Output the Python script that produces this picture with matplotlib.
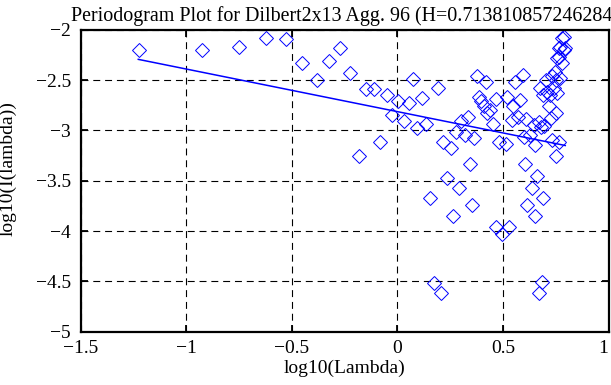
import matplotlib
matplotlib.use("Agg")
import matplotlib.pyplot as plt

# log10(Lambda) values of the periodogram points
log_lambda = [
    -1.223, -0.924, -0.748, -0.622, -0.527, -0.450, -0.380, -0.322, -0.271, -0.226,
    -0.184, -0.148, -0.113, -0.081, -0.048, -0.026, 0.005, 0.032, 0.054, 0.073,
    0.091, 0.117, 0.134, 0.155, 0.171, 0.190, 0.207, 0.218, 0.235, 0.254,
    0.263, 0.276, 0.291, 0.303, 0.321, 0.332, 0.342, 0.354, 0.365, 0.377,
    0.385, 0.396, 0.411, 0.421, 0.426, 0.439, 0.455, 0.468, 0.466, 0.480,
    0.497, 0.513, 0.519, 0.527, 0.542, 0.547, 0.558, 0.570, 0.582, 0.594,
    0.598, 0.606, 0.610, 0.614, 0.629, 0.636, 0.645, 0.650, 0.652, 0.661,
    0.669, 0.670, 0.677, 0.680, 0.684, 0.689, 0.690, 0.694, 0.703, 0.709,
    0.717, 0.724, 0.727, 0.732, 0.734, 0.743, 0.748, 0.750, 0.753, 0.753,
    0.756, 0.756, 0.764, 0.764, 0.767, 0.772, 0.772, 0.780, 0.780, 0.787,
    0.795, 0.790,
]
# log10(I(lambda)) values
log_I = [
    -2.203, -2.203, -2.170, -2.081, -2.094, -2.329, -2.500, -2.312, -2.183, -2.426,
    -3.259, -2.592, -2.589, -3.111, -2.653, -2.847, -2.708, -2.906, -2.728, -2.492,
    -2.972, -2.678, -2.933, -3.668, -4.513, -2.581, -4.616, -3.114, -3.468, -3.171,
    -3.851, -3.013, -3.576, -2.906, -3.045, -2.866, -3.337, -3.738, -3.071, -2.457,
    -2.665, -2.713, -2.757, -2.515, -2.830, -2.797, -2.936, -2.691, -3.962, -3.114,
    -4.025, -3.131, -2.671, -3.955, -2.901, -2.757, -2.515, -2.871, -2.698, -2.455,
    -3.064, -3.335, -2.891, -3.738, -3.045, -3.572, -2.946, -3.853, -3.149, -3.457,
    -2.913, -4.614, -2.582, -2.962, -4.505, -3.668, -2.649, -2.960, -2.500, -2.616,
    -2.762, -2.649, -2.876, -2.460, -3.099, -2.582, -2.418, -2.832, -2.500, -3.259,
    -2.285, -2.632, -2.186, -3.111, -2.269, -2.483, -2.170, -2.087, -2.335, -2.071,
    -2.186, -2.203,
]
# least-squares fit line endpoints
fit_x = [-1.227, 0.795]
fit_y = [-2.295, -3.150]

title_text = "Periodogram Plot for Dilbert2x13 Agg. 96 (H=0.713810857246284)"
x_ticks = [-1.5, -1, -0.5, 0, 0.5, 1]
x_tick_labels = ["\u22121.5", "\u22121", "\u22120.5", "0", "0.5", "1"]
y_ticks = [-5, -4.5, -4, -3.5, -3, -2.5, -2]
y_tick_labels = ["\u22125", "\u22124.5", "\u22124", "\u22123.5", "\u22123", "\u22122.5", "\u22122"]

plt.rcParams['font.family'] = ['Liberation Serif', 'DejaVu Serif']
plt.rcParams['lines.scale_dashes'] = False

FS = 14

fig = plt.figure(figsize=(6.11, 3.85), dpi=100)
ax = fig.add_axes([0.132, 0.138, 0.864, 0.785])

ax.plot(log_lambda, log_I, linestyle='none', marker='D', markersize=6.8,
        markerfacecolor='none', markeredgecolor='#0000ff', markeredgewidth=0.7)
ax.plot(fit_x, fit_y, color='#0000ff', linewidth=1.1)

ax.set_xlim(-1.5, 1)
ax.set_ylim(-5, -2)
ax.set_xticks(x_ticks)
ax.set_xticklabels(x_tick_labels)
ax.set_yticks(y_ticks)
ax.set_yticklabels(y_tick_labels)
ax.get_xticklabels()[-1].set_horizontalalignment('right')

ax.grid(True, color='black', linestyle=(0, (5, 3.5)), linewidth=0.8)
ax.tick_params(direction='in', length=5, width=1.3, top=True, right=True,
               labelsize=FS, colors='black')
ax.tick_params(axis='x', pad=6)
ax.tick_params(axis='y', pad=7)
for s in ax.spines.values():
    s.set_linewidth(1.6)

ax.set_xlabel("log10(Lambda)", fontsize=FS, labelpad=2)
ax.set_ylabel("log10(I(lambda))", fontsize=FS)
ax.yaxis.set_label_coords(-0.122, 0.54)
ax.set_title(title_text, fontsize=14.4, pad=6)

fig.savefig("out.png", dpi=100)
